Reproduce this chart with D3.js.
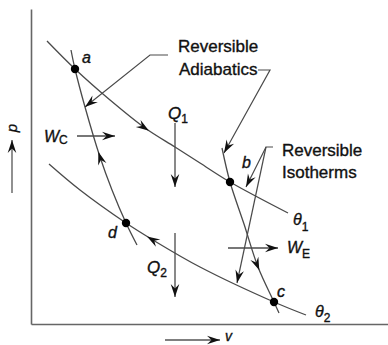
<!DOCTYPE html>
<html><head><meta charset="utf-8">
<script src="https://cdn.jsdelivr.net/npm/d3@7"></script>
<style>body{margin:0;background:#fff;} svg{display:block;} text{stroke:#111;stroke-width:0.35px;}</style>
</head><body><svg id="c" width="388" height="345"></svg>
<script>
// ---- data (v, p) in plot units ----
const theta1 = [[16,283],[44,255],[79,224],[114,196],[144,177],[169,161],[199,142],[257,111]];
const theta2 = [[18,160],[49,134],[95,101],[122,84],[169,57],[243,22],[275,9]];
const adiabatDA = [[40,274],[44,255],[54,217],[69,167],[81,134],[95,101],[106,79]];
const adiabatBC = [[191,176],[199,142],[213,100],[227,57],[243,22],[248,11]];
const stateNames = ["a","b","c","d"];
const statePoints = [[44,255],[199,142],[243,22],[95,101]];
const stateLabelPos = [[51,261],[211,156],[246,27],[77,86]];
// arrows sitting on the curves: target point + direction (+1 forward, -1 backward)
const curveArrows = [
  {curve:"theta1", at:[118,193], dir:1},
  {curve:"theta2", at:[116,88], dir:-1},
  {curve:"adiabatDA", at:[67,172], dir:-1},
  {curve:"adiabatBC", at:[229,54], dir:1}
];
// heat and work arrows
const flowArrows = [
  [[144,201],[144,137]],  // Q1
  [[144,91],[144,27]],    // Q2
  [[46,188],[84,188]],    // Wc
  [[197,76],[247,76]]     // We
];
// pointer lines for the annotations
const pointers = [
  [[137,269],[119,269],[54,217]],
  [[227,254],[239,254],[193,171]],
  [[242,177],[235,177],[215,137]],
  [[235,177],[206,41]]
];
const axisArrows = [
  [[-19,131],[-19,184]],   // p
  [[134,-16],[189,-16]]    // v
];
const annotations = [
  {t:"Reversible", at:[147,272]},
  {t:"Adiabatics", at:[148,249]},
  {t:"Reversible", at:[251,168]},
  {t:"Isotherms", at:[251,146]}
];
const subLabels = [
  {main:"Q", sub:"1", at:[137,205], size:17, dy:4},
  {main:"Q", sub:"2", at:[116,51], size:17, dy:4},
  {main:"W", sub:"C", at:[13,182], size:16, dy:2},
  {main:"W", sub:"E", at:[256,71], size:16, dy:5},
  {main:"θ", sub:"1", at:[262,99], size:16, dy:6},
  {main:"θ", sub:"2", at:[284,7], size:16, dy:5}
];

// ---- drawing ----
const svg = d3.select("#c");
const x = d3.scaleLinear().domain([0,357]).range([31,388]);
const y = d3.scaleLinear().domain([0,315]).range([324,9]);
const curveColor = "#4a4a4a";
const font = "'Liberation Sans', Arial, sans-serif";

// axes
const gx = svg.append("g").attr("transform",`translate(0,${y(0)})`)
  .call(d3.axisBottom(x).tickValues([]).tickSizeOuter(0));
const gy = svg.append("g").attr("transform",`translate(${x(0)},0)`)
  .call(d3.axisLeft(y).tickValues([]).tickSizeOuter(0));
[gx,gy].forEach(g=>g.select(".domain").attr("stroke","#666").attr("stroke-width",1.6));

const line = d3.line().x(d=>x(d[0])).y(d=>y(d[1])).curve(d3.curveCatmullRom.alpha(0.5));
const straight = d3.line().x(d=>x(d[0])).y(d=>y(d[1]));

function head(px,py,ang){
  svg.append("path")
    .attr("d","M0,0L-13,-4.3L-8.5,0L-13,4.3Z")
    .attr("fill","#111")
    .attr("transform",`translate(${px},${py}) rotate(${ang*180/Math.PI})`);
}

const curves = {theta1, theta2, adiabatDA, adiabatBC};
const paths = {};
Object.entries(curves).forEach(([k,pts])=>{
  paths[k] = svg.append("path").attr("d",line(pts)).attr("fill","none")
    .attr("stroke",curveColor).attr("stroke-width",1.3).node();
});

curveArrows.forEach(a=>{
  const p = paths[a.curve], L = p.getTotalLength();
  const tx = x(a.at[0]), ty = y(a.at[1]);
  let best=0, bd=1e9;
  for(let s=0;s<=L;s+=0.5){const q=p.getPointAtLength(s);const d=(q.x-tx)**2+(q.y-ty)**2;if(d<bd){bd=d;best=s;}}
  const q=p.getPointAtLength(best);
  const q1=p.getPointAtLength(Math.max(0,best-3)), q2=p.getPointAtLength(Math.min(L,best+3));
  let ang=Math.atan2(q2.y-q1.y,q2.x-q1.x); if(a.dir<0) ang+=Math.PI;
  head(q.x,q.y,ang);
});

function arrowLine(pts, color, w){
  svg.append("path").attr("d",straight(pts)).attr("fill","none")
    .attr("stroke",color).attr("stroke-width",w);
  const n=pts.length, a=pts[n-2], b=pts[n-1];
  head(x(b[0]),y(b[1]),Math.atan2(y(b[1])-y(a[1]),x(b[0])-x(a[0])));
}
flowArrows.forEach(p=>arrowLine(p,curveColor,1.3));
pointers.forEach(p=>arrowLine(p,curveColor,1.2));
axisArrows.forEach(p=>arrowLine(p,"#555",1.3));

// state points
svg.selectAll("circle.st").data(statePoints).join("circle")
  .attr("cx",d=>x(d[0])).attr("cy",d=>y(d[1])).attr("r",4.2).attr("fill","#000");
svg.selectAll("text.st").data(stateNames).join("text")
  .attr("x",(d,i)=>x(stateLabelPos[i][0])).attr("y",(d,i)=>y(stateLabelPos[i][1]))
  .attr("font-family",font).attr("font-style","italic").attr("font-size",16).attr("fill","#111")
  .text(d=>d);

svg.selectAll("text.an").data(annotations).join("text")
  .attr("x",d=>x(d.at[0])).attr("y",d=>y(d.at[1]))
  .attr("font-family",font).attr("font-size",17).attr("fill","#111").text(d=>d.t);

subLabels.forEach(d=>{
  const t = svg.append("text").attr("x",x(d.at[0])).attr("y",y(d.at[1]))
    .attr("font-family",font).attr("font-size",d.size).attr("fill","#111");
  t.append("tspan").attr("font-style","italic").text(d.main);
  t.append("tspan").attr("font-size",12).attr("dy",d.dy).text(d.sub);
});

// axis titles
svg.append("text").attr("transform",`translate(17,${y(196)}) rotate(-90)`)
  .attr("text-anchor","middle").attr("font-family",font).attr("font-style","italic")
  .attr("font-size",15).attr("fill","#111").text("p");
svg.append("text").attr("x",x(194)).attr("y",y(-17))
  .attr("font-family",font).attr("font-style","italic")
  .attr("font-size",14).attr("fill","#111").text("v");
</script></body></html>
